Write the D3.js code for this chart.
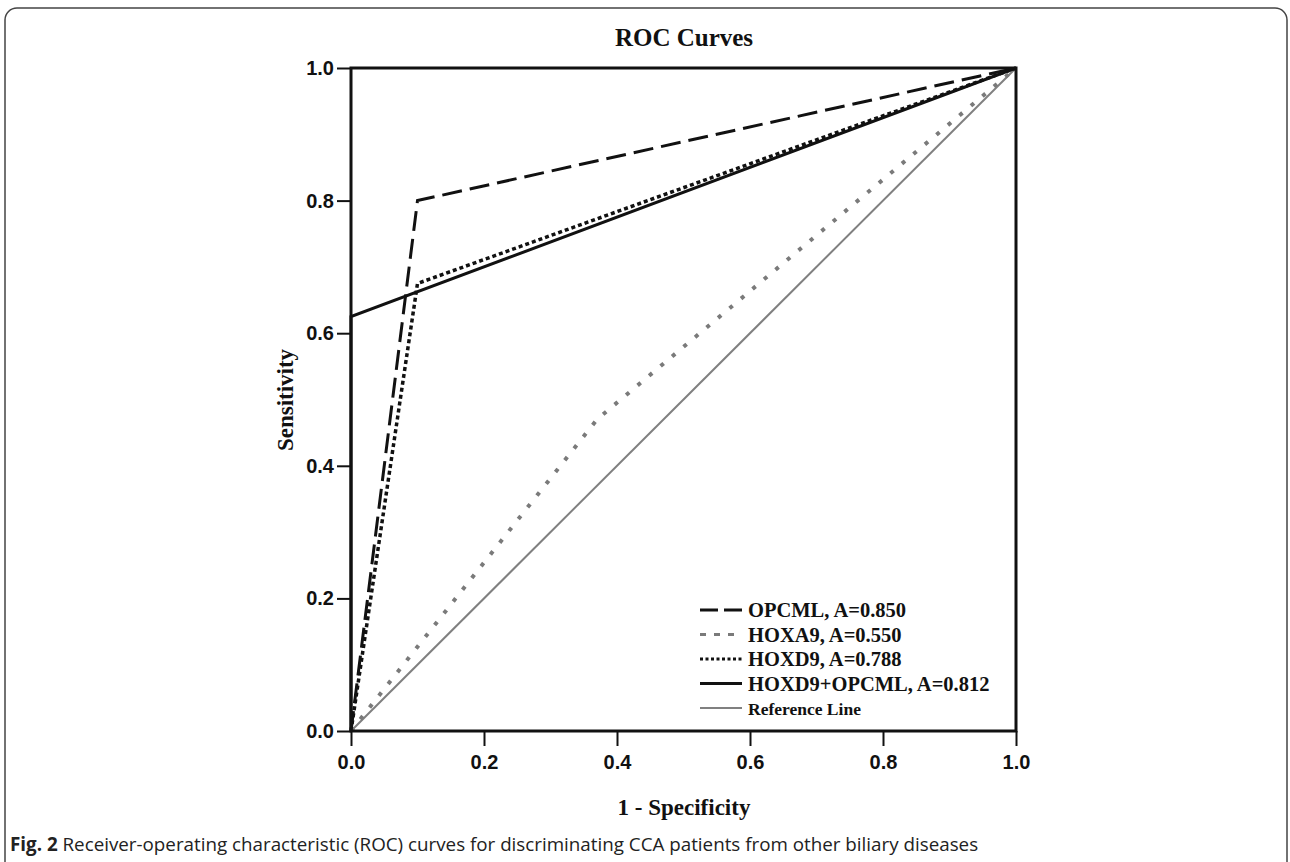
<!DOCTYPE html>
<html>
<head>
<meta charset="utf-8">
<title>ROC Curves</title>
<style>
	body { margin:0; padding:0; background:#fff; }
	svg { display:block; }
	.tick text { font-family:"Liberation Sans", Arial, sans-serif; font-weight:bold; font-size:20px; fill:#111; }
	.tick line { stroke:#111; stroke-width:2px; }
	.serif { font-family:"Liberation Serif", "Times New Roman", serif; font-weight:bold; fill:#111; }
</style>
</head>
<body>
<svg width="1290" height="862"></svg>
<script src="https://d3js.org/d3.v7.min.js"></script>
<script>

	// ticks on both axes
	var ticks = [0, 0.2, 0.4, 0.6, 0.8, 1.0];

	// ROC points, [1 - specificity, sensitivity]
	var opcml = [[0, 0], [0.1, 0.8], [1, 1]];
	var hoxa9 = [[0, 0], [0.37, 0.47], [1, 1]];
	var hoxd9 = [[0, 0], [0.1, 0.675], [1, 1]];
	var combo = [[0, 0], [0, 0.625], [1, 1]];
	var refLine = [[0, 0], [1, 1]];

	var legendLabels = ["OPCML, A=0.850", "HOXA9, A=0.550", "HOXD9, A=0.788", "HOXD9+OPCML, A=0.812", "Reference Line"];

	var styles = [
		{ data: opcml, color: "#111", width: 3, dash: "20,8", legendDash: "18,6" },
		{ data: hoxa9, color: "#7a7a7a", width: 4, dash: "4,11", legendDash: "6,8" },
		{ data: hoxd9, color: "#111", width: 3.5, dash: "4,3", legendDash: "3,2.5" },
		{ data: combo, color: "#111", width: 3, dash: null, legendDash: null },
		{ data: refLine, color: "#808080", width: 2, dash: null, legendDash: null }
	];

	var svg = d3.select("svg");

	// outer frame
	svg.append("rect")
		.attr("x", 5).attr("y", 8)
		.attr("width", 1282).attr("height", 900)
		.attr("rx", 12)
		.attr("fill", "none")
		.attr("stroke", "#444")
		.attr("stroke-width", 1.5);

	var x = d3.scaleLinear().domain([0, 1]).range([351, 1016]);
	var y = d3.scaleLinear().domain([0, 1]).range([731, 68]);

	var xAxis = d3.axisBottom(x).tickValues(ticks).tickFormat(d3.format(".1f")).tickSize(15).tickPadding(9);
	var yAxis = d3.axisLeft(y).tickValues(ticks).tickFormat(d3.format(".1f")).tickSize(14).tickPadding(3);

	svg.append("g").attr("transform", "translate(0," + y(0) + ")").call(xAxis)
		.call(function(g){ g.select(".domain").remove(); });
	svg.append("g").attr("transform", "translate(" + x(0) + ",0)").call(yAxis)
		.call(function(g){ g.select(".domain").remove(); });

	// the x ticks only run below the frame, a little lighter
	svg.selectAll(".tick line").filter(function(){ return +d3.select(this).attr("y2") > 0; })
		.attr("stroke", "#666");

	var line = d3.line()
		.x(function(d){ return x(d[0]); })
		.y(function(d){ return y(d[1]); });

	// draw reference first, then the curves
	styles.slice().reverse().forEach(function(s){
		svg.append("path")
			.attr("d", line(s.data))
			.attr("fill", "none")
			.attr("stroke", s.color)
			.attr("stroke-width", s.width)
			.attr("stroke-dasharray", s.dash);
	});

	// plot box
	svg.append("rect")
		.attr("x", x(0)).attr("y", y(1))
		.attr("width", x(1) - x(0)).attr("height", y(0) - y(1))
		.attr("fill", "none")
		.attr("stroke", "#111")
		.attr("stroke-width", 3);

	// title and axis labels
	svg.append("text").attr("class", "serif")
		.attr("x", 684).attr("y", 46)
		.attr("text-anchor", "middle")
		.style("font-size", "25px")
		.text("ROC Curves");

	svg.append("text").attr("class", "serif")
		.attr("x", 684).attr("y", 815)
		.attr("text-anchor", "middle")
		.style("font-size", "23px")
		.text("1 - Specificity");

	svg.append("text").attr("class", "serif")
		.attr("transform", "translate(293,400) rotate(-90)")
		.attr("text-anchor", "middle")
		.style("font-size", "23px")
		.text("Sensitivity");

	// legend
	var legend = svg.append("g").attr("transform", "translate(700,610)");
	legendLabels.forEach(function(label, i){
		var s = styles[i];
		var row = legend.append("g").attr("transform", "translate(0," + (i * 24.5) + ")");
		row.append("line")
			.attr("x1", 0).attr("x2", 42)
			.attr("stroke", s.color)
			.attr("stroke-width", i == 4 ? 2 : 3)
			.attr("stroke-dasharray", s.legendDash);
		row.append("text").attr("class", "serif")
			.attr("x", 48).attr("y", 7)
			.style("font-size", i == 4 ? "17.5px" : "20.5px")
			.text(label);
	});

	// caption
	var cap = svg.append("text")
		.attr("x", 10).attr("y", 851)
		.style("font-family", "'Open Sans', sans-serif")
		.style("font-size", "18.8px")
		.attr("fill", "#222");
	cap.append("tspan").style("font-weight", "bold").text("Fig. 2");
	cap.append("tspan").text(" Receiver-operating characteristic (ROC) curves for discriminating CCA patients from other biliary diseases");

</script>
</body>
</html>
